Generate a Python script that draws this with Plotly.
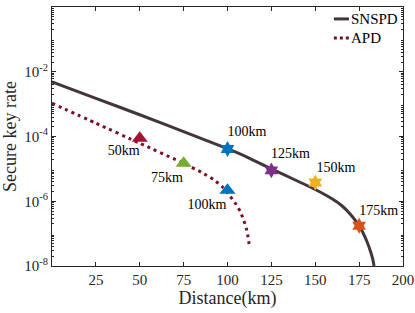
import plotly.graph_objects as go

# ---------------- data ----------------
snspd_km = [0, 25, 50, 75, 100, 112, 125, 138, 150, 160, 165, 170, 174, 177, 179.5, 181.5, 182.8, 183.5]
snspd_rate = [4.9e-3, 1.51e-3, 4.7e-4, 1.41e-4, 4.2e-5, 2.2e-5, 1.0e-5, 4.7e-6, 2.3e-6,
              1.15e-6, 7.4e-7, 4.0e-7, 2.1e-7, 1.12e-7, 5.6e-8, 2.8e-8, 1.6e-8, 1.0e-8]

apd_km = [0, 25, 50, 75, 85, 92, 97, 101.6, 105, 107.3, 109, 110.7, 111.7, 112.3]
apd_rate = [1.07e-3, 2.57e-4, 6.2e-5, 1.48e-5, 7.9e-6, 4.7e-6, 2.8e-6, 1.41e-6, 7.9e-7,
            4.8e-7, 2.8e-7, 1.48e-7, 7.9e-8, 4.8e-8]

star_km = [100, 125, 150, 175]
star_rate = [4.1e-5, 9.0e-6, 3.8e-6, 1.75e-7]
star_labels = ["100km", "125km", "150km", "175km"]
star_label_km = [111.1, 135.8, 161.8, 186.1]
star_label_rate = [1.35e-4, 2.7e-5, 1.05e-5, 5.0e-7]

tri_km = [50, 75, 100]
tri_rate = [8.9e-5, 1.5e-5, 2.2e-6]
tri_labels = ["50km", "75km", "100km"]
tri_label_km = [40.8, 65.5, 88.3]
tri_label_rate = [3.4e-5, 4.9e-6, 7.4e-7]

x_ticks = [25, 50, 75, 100, 125, 150, 175, 200]
y_ticks = [1e0, 1e-2, 1e-4, 1e-6, 1e-8]
y_ticktext = ["10<sup>0</sup>", "10<sup>-2</sup>", "10<sup>-4</sup>", "10<sup>-6</sup>", "10<sup>-8</sup>"]

# ---------------- styles ----------------
FONT = "Liberation Serif"
star_colors = ["#0072BD", "#7E2F8E", "#EDB120", "#D95319"]
tri_colors = ["#A2142F", "#77AC30", "#0072BD"]
SNSPD_COLOR = "#433539"
APD_COLOR = "#7B0F23"
AX = "#262626"

fig = go.Figure()
fig.add_trace(go.Scatter(x=snspd_km, y=snspd_rate, mode="lines", name="SNSPD",
                         line=dict(color=SNSPD_COLOR, width=3, shape="spline", smoothing=0.4),
                         showlegend=False))
fig.add_trace(go.Scatter(x=apd_km, y=apd_rate, mode="lines", name="APD",
                         line=dict(color=APD_COLOR, width=3, dash="3px,4px", shape="spline", smoothing=0.5),
                         showlegend=False))
fig.add_trace(go.Scatter(x=star_km, y=star_rate, mode="markers", showlegend=False,
                         marker=dict(symbol="hexagram", size=12, color=star_colors,
                                     line=dict(width=0))))
fig.add_trace(go.Scatter(x=tri_km, y=tri_rate, mode="markers", showlegend=False,
                         marker=dict(symbol="triangle-up", size=14, color=tri_colors,
                                     line=dict(width=0))))
fig.add_trace(go.Scatter(x=star_label_km, y=star_label_rate, mode="text", text=star_labels,
                         textfont=dict(family=FONT, size=14, color="black"), showlegend=False))
fig.add_trace(go.Scatter(x=tri_label_km, y=tri_label_rate, mode="text", text=tri_labels,
                         textfont=dict(family=FONT, size=14, color="black"), showlegend=False))

# manual legend (paper coordinates)
legend_items = [("SNSPD", SNSPD_COLOR, "solid", 0.954), ("APD", APD_COLOR, "dot", 0.880)]
for name, col, dash, yy in legend_items:
    fig.add_shape(type="line", xref="paper", yref="paper", x0=0.803, x1=0.846, y0=yy, y1=yy,
                  line=dict(color=col, width=3, dash=("3px,3px" if dash == "dot" else "solid")))
    fig.add_annotation(xref="paper", yref="paper", x=0.852, y=yy, text=name, showarrow=False,
                       xanchor="left", yanchor="middle", xshift=-2,
                       font=dict(family=FONT, size=15, color="black"))

fig.update_layout(
    width=415, height=313,
    margin=dict(l=52, r=12, t=7, b=47),
    paper_bgcolor="white", plot_bgcolor="white",
    font=dict(family=FONT, size=14, color="black"),
    showlegend=False,
)
fig.update_xaxes(
    range=[0, 200], tickvals=x_ticks, ticks="inside", ticklen=4, tickcolor=AX, tickwidth=1,
    showline=True, linecolor=AX, linewidth=1, mirror="ticks", showgrid=False, zeroline=False,
    automargin=False,
    tickfont=dict(family=FONT, size=15, color="#262626"),
    title=dict(text="Distance(km)", font=dict(family=FONT, size=18, color="#262626"), standoff=2),
)
minor_vals = [m * 10.0 ** e for e in range(-8, 0) for m in range(2, 10)]
fig.update_yaxes(
    type="log", range=[-8, 0], tickvals=y_ticks, ticktext=y_ticktext,
    ticks="inside", ticklen=4, tickcolor=AX, tickwidth=1,
    minor=dict(tickvals=minor_vals, ticks="inside", ticklen=2, tickcolor=AX),
    showline=True, linecolor=AX, linewidth=1, mirror="ticks", showgrid=False, zeroline=False,
    automargin=False,
    tickfont=dict(family=FONT, size=15, color="#262626"),
    title=dict(text="Secure key rate", font=dict(family=FONT, size=18, color="#262626"), standoff=2),
)

fig.write_html("out.html", config={"displayModeBar": False},
               post_script="document.body.style.margin='0';document.body.style.padding='0';")
